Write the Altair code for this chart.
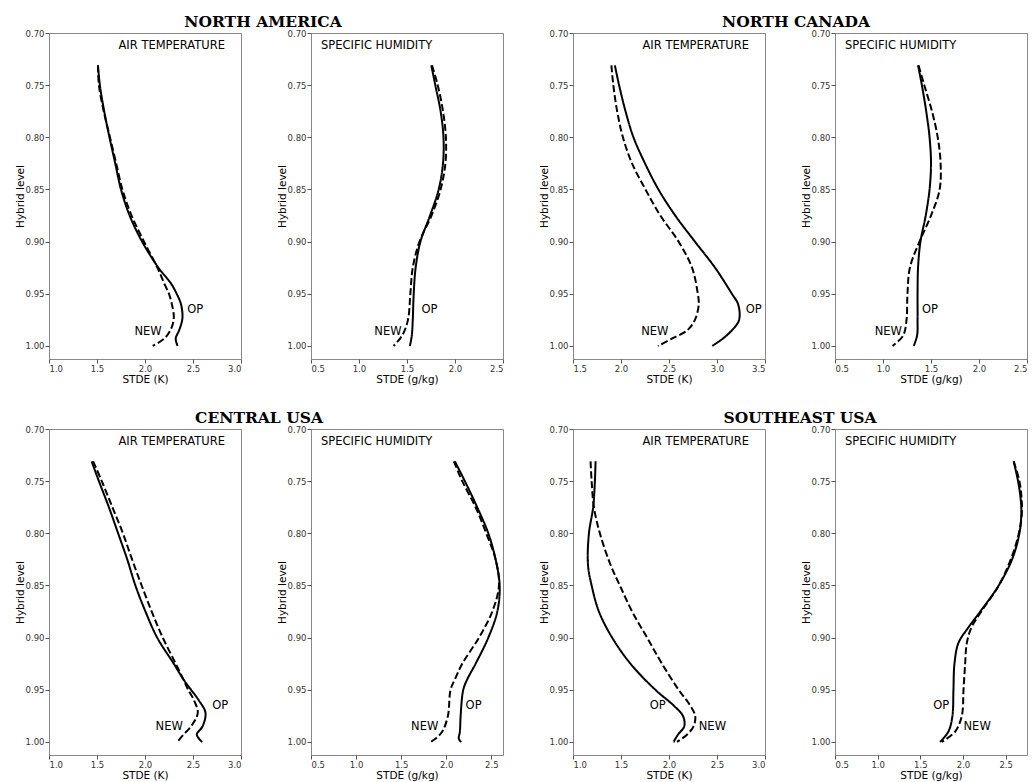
import altair as alt
import pandas as pd

# ---------------- data ----------------
Y_TICKS = [0.70, 0.75, 0.80, 0.85, 0.90, 0.95, 1.00]
Y_DOMAIN = [0.70, 1.0125]
RUNS = ["OP", "NEW"]

# NORTH AMERICA - air temperature (K)
NA_T_LEVELS = [0.731, 0.75, 0.775, 0.80, 0.825, 0.85, 0.875, 0.90, 0.925, 0.94, 0.95, 0.96, 0.973, 0.984, 0.993, 1.00]
NA_T_OP = [1.51, 1.53, 1.575, 1.63, 1.69, 1.75, 1.84, 1.97, 2.14, 2.27, 2.33, 2.375, 2.39, 2.36, 2.32, 2.34]
NA_T_NEW = [1.51, 1.52, 1.57, 1.635, 1.70, 1.765, 1.86, 1.99, 2.13, 2.20, 2.25, 2.28, 2.30, 2.27, 2.20, 2.08]
NA_T_LAB_X = [2.44, 1.89]
NA_T_LAB_Y = [0.9654, 0.9862]

# NORTH AMERICA - specific humidity (g/kg)
NA_Q_LEVELS = [0.731, 0.75, 0.775, 0.80, 0.825, 0.85, 0.875, 0.90, 0.925, 0.95, 0.975, 0.99, 1.00]
NA_Q_OP = [1.753, 1.795, 1.85, 1.88, 1.875, 1.83, 1.74, 1.64, 1.59, 1.57, 1.56, 1.55, 1.53]
NA_Q_NEW = [1.76, 1.82, 1.875, 1.905, 1.90, 1.85, 1.755, 1.63, 1.56, 1.535, 1.51, 1.45, 1.36]
NA_Q_LAB_X = [1.65, 1.16]
NA_Q_LAB_Y = [0.9654, 0.9862]

# NORTH CANADA - air temperature (K)
NC_T_LEVELS = [0.731, 0.75, 0.775, 0.80, 0.825, 0.85, 0.875, 0.90, 0.925, 0.95, 0.96, 0.975, 0.985, 0.993, 1.00]
NC_T_OP = [1.936, 1.98, 2.047, 2.13, 2.25, 2.39, 2.565, 2.77, 2.98, 3.155, 3.22, 3.23, 3.155, 3.06, 2.95]
NC_T_NEW = [1.90, 1.92, 1.96, 2.02, 2.115, 2.255, 2.41, 2.60, 2.74, 2.80, 2.81, 2.77, 2.69, 2.53, 2.385]
NC_T_LAB_X = [3.30, 2.21]
NC_T_LAB_Y = [0.9654, 0.9862]

# NORTH CANADA - specific humidity (g/kg)
NC_Q_LEVELS = [0.731, 0.75, 0.775, 0.80, 0.825, 0.85, 0.875, 0.90, 0.925, 0.95, 0.975, 0.99, 1.00]
NC_Q_OP = [1.365, 1.405, 1.45, 1.485, 1.50, 1.485, 1.445, 1.39, 1.365, 1.36, 1.36, 1.355, 1.32]
NC_Q_NEW = [1.37, 1.43, 1.51, 1.57, 1.60, 1.59, 1.50, 1.38, 1.28, 1.255, 1.245, 1.21, 1.10]
NC_Q_LAB_X = [1.406, 0.913]
NC_Q_LAB_Y = [0.9654, 0.9862]

# CENTRAL USA - air temperature (K)
CU_T_LEVELS = [0.731, 0.75, 0.775, 0.80, 0.825, 0.85, 0.875, 0.90, 0.925, 0.94, 0.95, 0.96, 0.972, 0.985, 0.993, 1.00]
CU_T_OP = [1.444, 1.52, 1.624, 1.72, 1.815, 1.90, 2.005, 2.127, 2.30, 2.40, 2.48, 2.56, 2.63, 2.60, 2.54, 2.595]
CU_T_NEW = [1.46, 1.55, 1.66, 1.77, 1.865, 1.965, 2.07, 2.185, 2.32, 2.40, 2.45, 2.51, 2.55, 2.48, 2.40, 2.335]
CU_T_LAB_X = [2.70, 2.11]
CU_T_LAB_Y = [0.966, 0.986]

# CENTRAL USA - specific humidity (g/kg)
CU_Q_LEVELS = [0.731, 0.75, 0.775, 0.80, 0.825, 0.85, 0.875, 0.90, 0.925, 0.94, 0.95, 0.975, 0.99, 0.997, 1.00]
CU_Q_OP = [2.096, 2.207, 2.344, 2.467, 2.548, 2.593, 2.567, 2.467, 2.326, 2.233, 2.189, 2.16, 2.152, 2.14, 2.167]
CU_Q_NEW = [2.085, 2.178, 2.326, 2.444, 2.548, 2.585, 2.511, 2.363, 2.178, 2.096, 2.048, 2.019, 1.956, 1.88, 1.826]
CU_Q_LAB_X = [2.215, 1.61]
CU_Q_LAB_Y = [0.966, 0.986]

# SOUTHEAST USA - air temperature (K)
SE_T_LEVELS = [0.731, 0.75, 0.775, 0.80, 0.83, 0.85, 0.875, 0.90, 0.925, 0.95, 0.965, 0.975, 0.985, 0.993, 1.00]
SE_T_OP = [1.235, 1.228, 1.21, 1.166, 1.156, 1.194, 1.27, 1.408, 1.599, 1.858, 2.048, 2.145, 2.159, 2.093, 2.048]
SE_T_NEW = [1.183, 1.194, 1.218, 1.28, 1.39, 1.488, 1.616, 1.772, 1.927, 2.10, 2.221, 2.273, 2.256, 2.187, 2.083]
SE_T_LAB_X = [1.80, 2.31]
SE_T_LAB_Y = [0.966, 0.986]

# SOUTHEAST USA - specific humidity (g/kg)
SE_Q_LEVELS = [0.731, 0.75, 0.765, 0.78, 0.80, 0.825, 0.85, 0.875, 0.89, 0.905, 0.925, 0.95, 0.975, 0.99, 1.00]
SE_Q_OP = [2.594, 2.645, 2.673, 2.684, 2.661, 2.575, 2.418, 2.202, 2.065, 1.947, 1.90, 1.888, 1.876, 1.829, 1.731]
SE_Q_NEW = [2.594, 2.661, 2.685, 2.69, 2.655, 2.56, 2.42, 2.215, 2.10, 2.045, 2.025, 2.006, 1.986, 1.908, 1.751]
SE_Q_LAB_X = [1.65, 2.006]
SE_Q_LAB_Y = [0.966, 0.986]

# ---------------- layout / style ----------------
PANEL_W = 192
PANEL_H = 326
FONT = "DejaVu Sans"
TITLE_FONT = "DejaVu Serif"


def make_panel(levels, op, new, xdom, xticks, xtitle, label, label_right,
               lab_x, lab_y, title=None, title_dx=0):
    n = len(levels)
    df = pd.DataFrame({
        "level": list(levels) + list(levels),
        "stde": list(op) + list(new),
        "run": [RUNS[0]] * n + [RUNS[1]] * n,
    })
    x_enc = alt.X("stde:Q",
                  scale=alt.Scale(domain=xdom, nice=False, zero=False),
                  axis=alt.Axis(values=xticks, format=".1f"),
                  title=xtitle)
    y_enc = alt.Y("level:Q",
                  scale=alt.Scale(domain=Y_DOMAIN, reverse=True, nice=False, zero=False),
                  axis=alt.Axis(values=Y_TICKS, format=".2f"),
                  title="Hybrid level")
    lines = alt.Chart(df).mark_line(
        color="black", strokeWidth=2, interpolate="catmull-rom"
    ).encode(
        x=x_enc,
        y=y_enc,
        strokeDash=alt.StrokeDash(
            "run:N",
            scale=alt.Scale(domain=RUNS, range=[[1, 0], [7, 3]]),
            legend=None,
        ),
        order=alt.Order("level:Q"),
    )

    ldf = pd.DataFrame({"stde": lab_x, "level": lab_y, "t": RUNS})
    labels = alt.Chart(ldf).mark_text(
        align="left", baseline="middle", fontSize=11.5, font=FONT, color="black"
    ).encode(
        x=alt.X("stde:Q", title=xtitle),
        y=alt.Y("level:Q", title="Hybrid level"),
        text="t:N",
    )

    pdf = pd.DataFrame({"t": [label]})
    if label_right:
        ptext = alt.Chart(pdf).mark_text(
            align="right", baseline="alphabetic", fontSize=11.5, font=FONT, color="black"
        ).encode(x=alt.value(PANEL_W - 16), y=alt.value(16), text="t:N")
    else:
        ptext = alt.Chart(pdf).mark_text(
            align="left", baseline="alphabetic", fontSize=11.5, font=FONT, color="black"
        ).encode(x=alt.value(10), y=alt.value(16), text="t:N")

    props = dict(width=PANEL_W, height=PANEL_H)
    if title is not None:
        props["title"] = alt.TitleParams(
            text=title, anchor="start", align="center", frame="group",
            dx=title_dx, font=TITLE_FONT, fontSize=15.5, fontWeight="bold",
            color="black", offset=-1,
        )
    return alt.layer(lines, labels, ptext).properties(**props)


T_TICKS_1 = [1.0, 1.5, 2.0, 2.5, 3.0]
T_TICKS_2 = [1.5, 2.0, 2.5, 3.0, 3.5]
Q_TICKS = [0.5, 1.0, 1.5, 2.0, 2.5]

panels = [
    make_panel(NA_T_LEVELS, NA_T_OP, NA_T_NEW, [1.0, 3.0], T_TICKS_1, "STDE (K)",
               "AIR TEMPERATURE", True, NA_T_LAB_X, NA_T_LAB_Y,
               title="NORTH AMERICA", title_dx=214),
    make_panel(NA_Q_LEVELS, NA_Q_OP, NA_Q_NEW, [0.5, 2.5], Q_TICKS, "STDE (g/kg)",
               "SPECIFIC HUMIDITY", False, NA_Q_LAB_X, NA_Q_LAB_Y),
    make_panel(NC_T_LEVELS, NC_T_OP, NC_T_NEW, [1.5, 3.5], T_TICKS_2, "STDE (K)",
               "AIR TEMPERATURE", True, NC_T_LAB_X, NC_T_LAB_Y,
               title="NORTH CANADA", title_dx=223),
    make_panel(NC_Q_LEVELS, NC_Q_OP, NC_Q_NEW, [0.5, 2.5], Q_TICKS, "STDE (g/kg)",
               "SPECIFIC HUMIDITY", False, NC_Q_LAB_X, NC_Q_LAB_Y),
    make_panel(CU_T_LEVELS, CU_T_OP, CU_T_NEW, [1.0, 3.0], T_TICKS_1, "STDE (K)",
               "AIR TEMPERATURE", True, CU_T_LAB_X, CU_T_LAB_Y,
               title="CENTRAL USA", title_dx=210),
    make_panel(CU_Q_LEVELS, CU_Q_OP, CU_Q_NEW, [0.5, 2.63], Q_TICKS, "STDE (g/kg)",
               "SPECIFIC HUMIDITY", False, CU_Q_LAB_X, CU_Q_LAB_Y),
    make_panel(SE_T_LEVELS, SE_T_OP, SE_T_NEW, [1.0, 3.0], T_TICKS_1, "STDE (K)",
               "AIR TEMPERATURE", True, SE_T_LAB_X, SE_T_LAB_Y,
               title="SOUTHEAST USA", title_dx=227),
    make_panel(SE_Q_LEVELS, SE_Q_OP, SE_Q_NEW, [0.5, 2.75], Q_TICKS, "STDE (g/kg)",
               "SPECIFIC HUMIDITY", False, SE_Q_LAB_X, SE_Q_LAB_Y),
]

chart = alt.concat(*panels, columns=4, spacing=70, bounds="flush").properties(
    padding={"left": 14, "top": 14, "right": 2, "bottom": 2},
    background="white",
).configure_view(
    stroke="#888888", strokeWidth=1,
).configure_axis(
    domain=False, grid=False,
    tickSize=4, tickColor="#555555", tickWidth=1,
    labelFont=FONT, labelFontSize=8.5, labelColor="#333333", labelPadding=1,
    titleFont=FONT, titleFontSize=10.5, titleFontWeight="normal", titleColor="black",
).configure_axisX(
    titlePadding=2,
).configure_axisY(
    titlePadding=0,
)

chart.save("out.html", embed_options={"renderer": "svg", "actions": False})
